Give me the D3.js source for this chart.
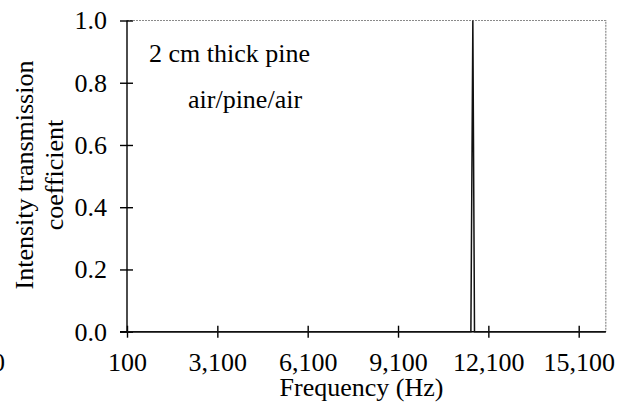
<!DOCTYPE html>
<html>
<head>
<meta charset="utf-8">
<script src="https://cdn.jsdelivr.net/npm/d3@7/dist/d3.min.js"></script>
<style>
  html, body { margin: 0; padding: 0; background: #fff; }
  svg { display: block; }
  text { font-family: "Liberation Serif", "Times New Roman", serif; fill: #000; }
</style>
</head>
<body>
<svg id="chart" width="637" height="409"></svg>
<script>
// Transmission through a 2 cm pine board (air/pine/air)
const freqHz = [100, 11520, 11585, 11640, 16000];
const transmission = [0, 0, 1.0, 0, 0];
const xTicks = [100, 3100, 6100, 9100, 12100, 15100];
const yTicks = [0, 0.2, 0.4, 0.6, 0.8, 1.0];
const notes = ["2 cm thick pine", "air/pine/air"];

const svg = d3.select("#chart");
const plotL = 127, plotR = 605.8, plotT = 20.5, plotB = 331.7;
const fs = 26;

const x = d3.scaleLinear().domain([100, 16000]).range([plotL, plotR]);
const y = d3.scaleLinear().domain([0, 1]).range([plotB, plotT]);

// dotted frame on top and right
svg.append("path")
  .attr("d", `M${plotL},${plotT}H${plotR}V${plotB}`)
  .attr("fill", "none")
  .attr("stroke", "#8a8a8a")
  .attr("stroke-width", 1.2)
  .attr("stroke-dasharray", "2,1");

// x axis
const xAxis = svg.append("g")
  .attr("transform", `translate(0,${plotB})`)
  .call(d3.axisBottom(x).tickValues(xTicks).tickFormat(d3.format(",")).tickSizeOuter(0).tickSize(6).tickPadding(15));
xAxis.select(".domain").attr("d", `M${plotL - 7},0H${plotR}`).attr("stroke", "#000").attr("stroke-width", 1.4);
xAxis.selectAll(".tick line").attr("y1", -6).attr("y2", 6).attr("stroke", "#000").attr("stroke-width", 1.4);
xAxis.selectAll(".tick text").attr("font-size", fs).attr("font-family", "Liberation Serif");

// y axis
const yAxis = svg.append("g")
  .attr("transform", `translate(${plotL},0)`)
  .call(d3.axisLeft(y).tickValues(yTicks).tickFormat(d3.format(".1f")).tickSizeOuter(0).tickSize(6).tickPadding(14));
yAxis.select(".domain").attr("d", `M0,${plotT}V${plotB}`).attr("stroke", "#000").attr("stroke-width", 1.4);
yAxis.selectAll(".tick line").attr("x1", -7).attr("x2", 6).attr("stroke", "#000").attr("stroke-width", 1.4);
yAxis.selectAll(".tick text").attr("font-size", fs).attr("font-family", "Liberation Serif");

// transmission curve
svg.append("path")
  .datum(freqHz.map((f, i) => [f, transmission[i]]))
  .attr("fill", "none")
  .attr("stroke", "#111")
  .attr("stroke-width", 1.5)
  .attr("d", d3.line().x(d => x(d[0])).y(d => y(d[1])));

// axis titles
svg.append("text")
  .attr("x", 361.5).attr("y", 396)
  .attr("text-anchor", "middle").attr("font-size", fs)
  .text("Frequency (Hz)");

const yt = svg.append("text")
  .attr("transform", `translate(24,175) rotate(-90)`)
  .attr("text-anchor", "middle").attr("font-size", fs);
yt.append("tspan").attr("x", 0).attr("dy", "0.35em").text("Intensity transmission");
yt.append("tspan").attr("x", 0).attr("dy", 30).text("coefficient");

// annotations inside the plot
svg.append("text").attr("x", 149).attr("y", 62).attr("font-size", fs).text(notes[0]);
svg.append("text").attr("x", 188).attr("y", 108).attr("font-size", fs).text(notes[1]);

// clipped label at the far left edge
svg.append("text").attr("x", -8).attr("y", 371).attr("font-size", fs).text("0");
</script>
</body>
</html>
